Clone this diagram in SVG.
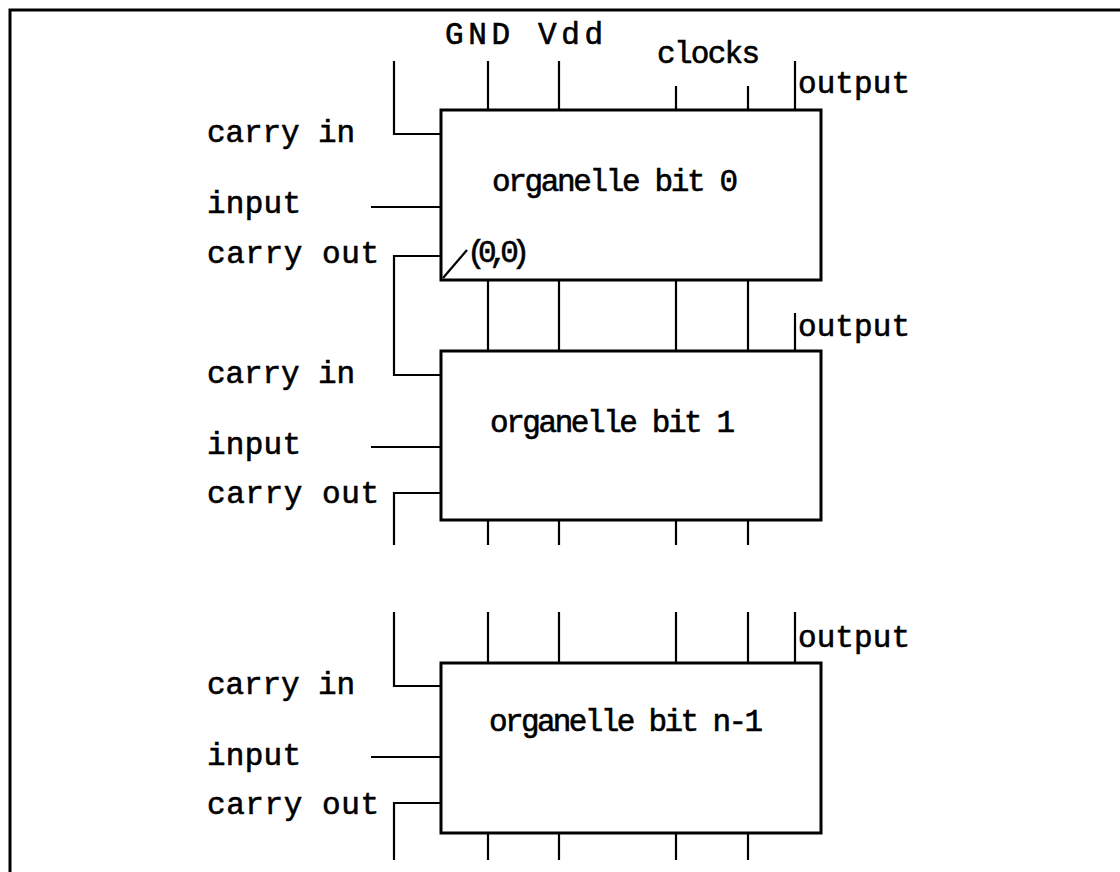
<svg xmlns="http://www.w3.org/2000/svg" width="1120" height="872" viewBox="0 0 1120 872">
<style>
.t{font-family:"Liberation Mono","DejaVu Sans Mono",monospace;font-size:31px;fill:#000;stroke:#000;stroke-width:0.6;}
.box{fill:#fff;stroke:#000;stroke-width:3;}
.w{fill:none;stroke:#000;stroke-width:2.2;}
.f{fill:none;stroke:#000;stroke-width:3;}
</style>
<rect width="1120" height="872" fill="#fff"/>
<path class="f" d="M10,872 V10 H1120"/>
<text class="t" x="445" y="44" textLength="158" lengthAdjust="spacing">GND Vdd</text>
<text class="t" x="657" y="63" textLength="103" lengthAdjust="spacing">clocks</text>
<g id="connectors">
<path class="w" d="M394,61 V134 H441"/>
<path class="w" d="M488,61 V110 M559,61 V110 M676,86 V110 M748,86 V110 M795,61 V110"/>
<path class="w" d="M371,207 H441"/>
<path class="w" d="M441,256 H394 V375 H441"/>
<path class="w" d="M488,281 V351 M559,281 V351 M676,281 V351 M748,281 V351 M795,313 V351"/>
<path class="w" d="M371,447 H441"/>
<path class="w" d="M441,493 H394 V545"/>
<path class="w" d="M488,520 V545 M559,520 V545 M676,520 V545 M748,520 V545"/>
<path class="w" d="M394,612 V686 H441"/>
<path class="w" d="M488,612 V663 M559,612 V663 M676,612 V663 M748,612 V663 M795,612 V663"/>
<path class="w" d="M371,757 H441"/>
<path class="w" d="M441,803 H394 V860"/>
<path class="w" d="M488,833 V860 M559,833 V860 M676,833 V860 M748,833 V860"/>
</g>
<g id="bit0">
<rect class="box" x="441" y="110" width="380" height="170"/>
<path class="w" d="M443,278 L467,250"/>
<text class="t" x="492" y="191" textLength="246" lengthAdjust="spacing">organelle bit 0</text>
<text class="t" x="467" y="262" textLength="63" lengthAdjust="spacing">(0,0)</text>
<text class="t" x="207" y="142" textLength="148" lengthAdjust="spacing">carry in</text>
<text class="t" x="207" y="213" textLength="94" lengthAdjust="spacing">input</text>
<text class="t" x="207" y="263" textLength="172" lengthAdjust="spacing">carry out</text>
<text class="t" x="798" y="93" textLength="112" lengthAdjust="spacing">output</text>
</g>
<g id="bit1">
<rect class="box" x="441" y="351" width="380" height="169"/>
<text class="t" x="490" y="432" textLength="245" lengthAdjust="spacing">organelle bit 1</text>
<text class="t" x="207" y="383" textLength="148" lengthAdjust="spacing">carry in</text>
<text class="t" x="207" y="454" textLength="94" lengthAdjust="spacing">input</text>
<text class="t" x="207" y="503" textLength="172" lengthAdjust="spacing">carry out</text>
<text class="t" x="798" y="336" textLength="112" lengthAdjust="spacing">output</text>
</g>
<g id="bitn1">
<rect class="box" x="441" y="663" width="380" height="170"/>
<text class="t" x="489" y="731" textLength="274" lengthAdjust="spacing">organelle bit n-1</text>
<text class="t" x="207" y="694" textLength="148" lengthAdjust="spacing">carry in</text>
<text class="t" x="207" y="765" textLength="94" lengthAdjust="spacing">input</text>
<text class="t" x="207" y="814" textLength="172" lengthAdjust="spacing">carry out</text>
<text class="t" x="798" y="647" textLength="112" lengthAdjust="spacing">output</text>
</g>
</svg>
